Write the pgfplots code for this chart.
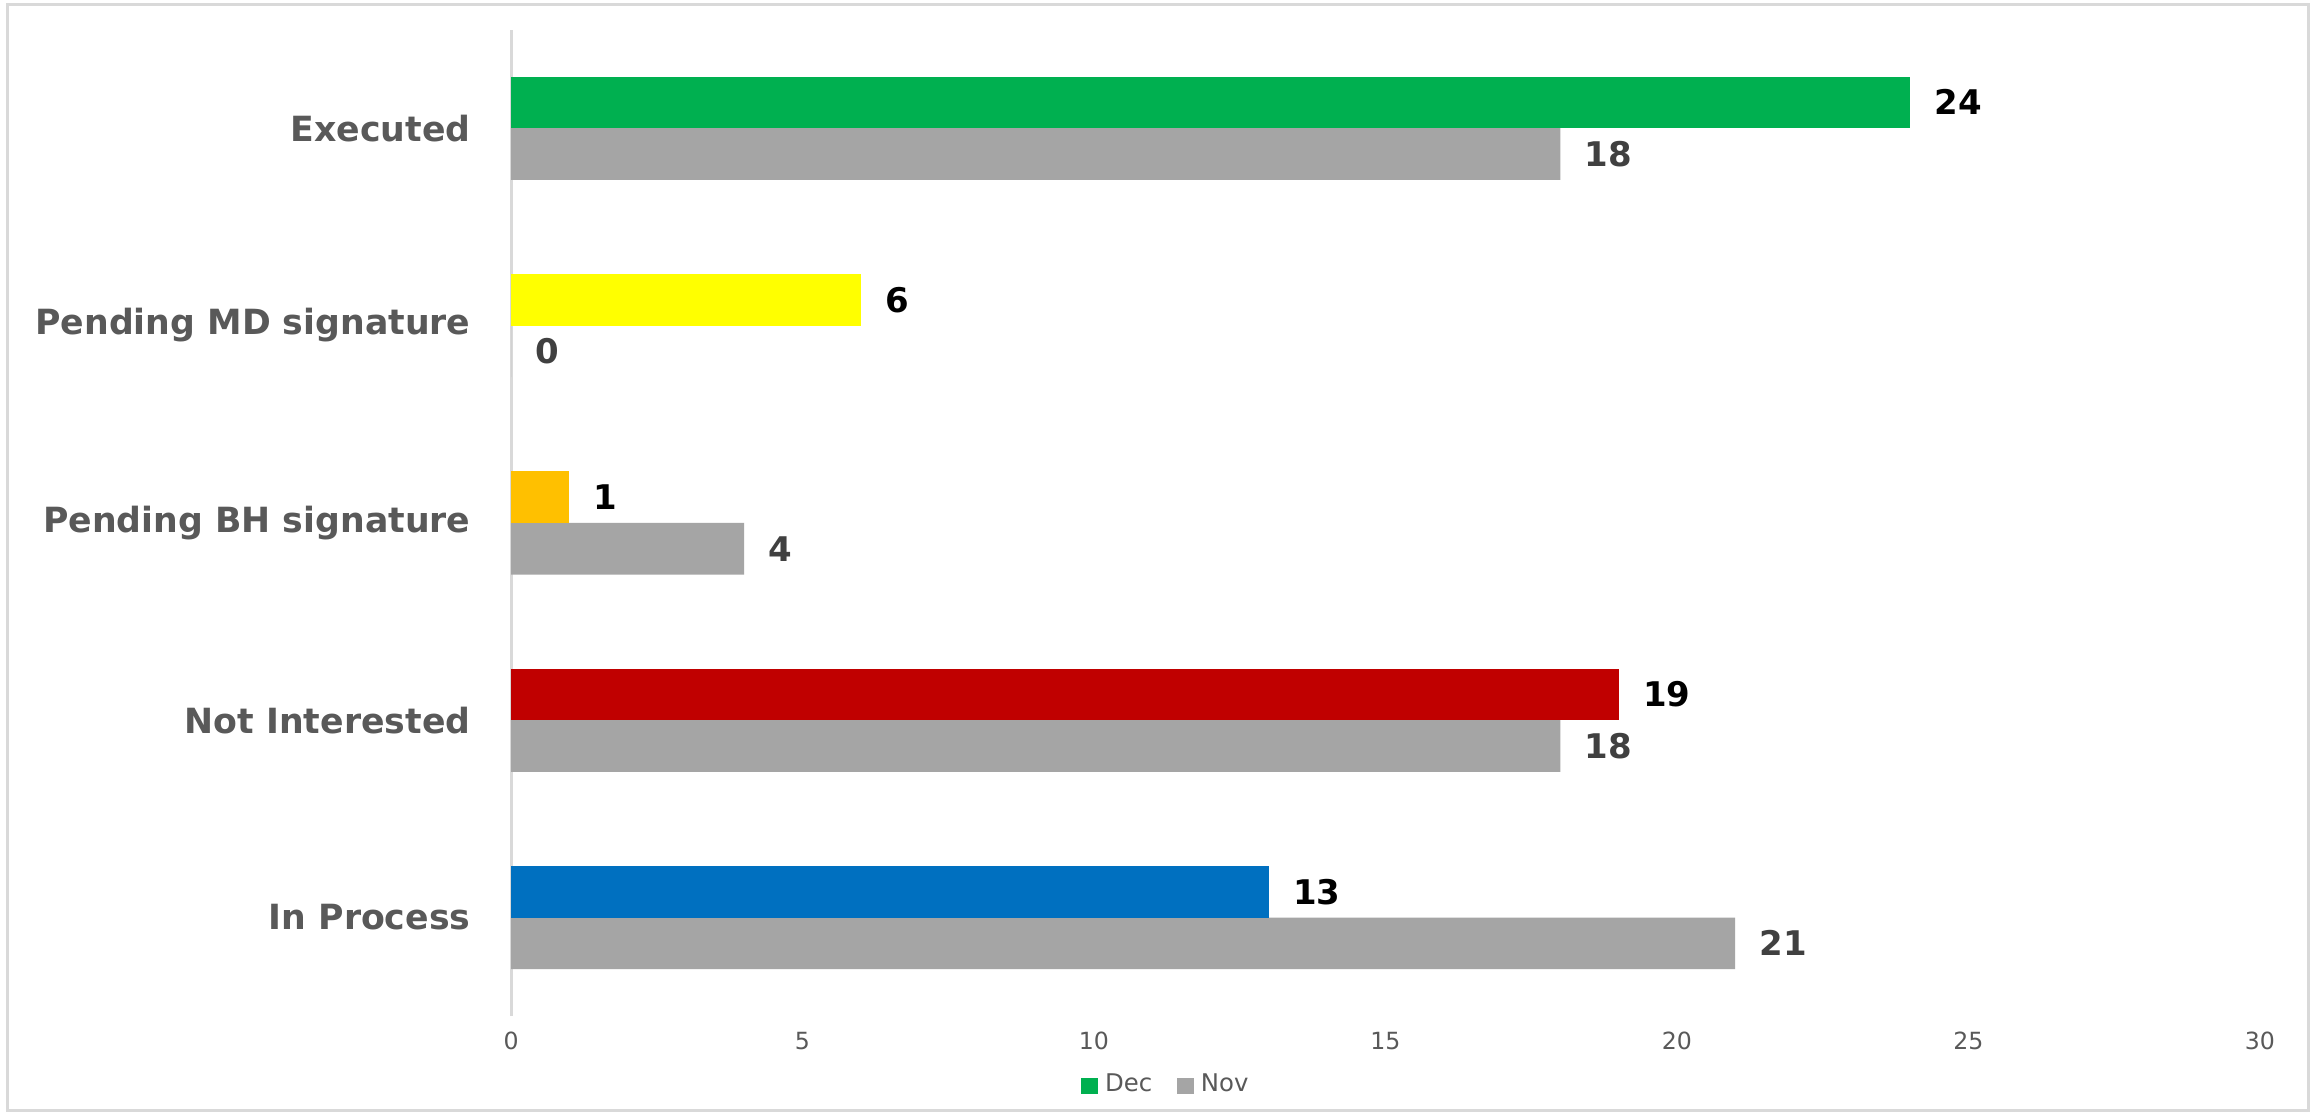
\documentclass[border=0pt]{standalone}
\usepackage{fontspec}
\setmainfont{DejaVu Sans}
\usepackage{pgfplots}
\pgfplotsset{compat=1.18}
\definecolor{decgreen}{HTML}{00B050}
\definecolor{decyellow}{HTML}{FFFF00}
\definecolor{decgold}{HTML}{FFC000}
\definecolor{decred}{HTML}{C00000}
\definecolor{decblue}{HTML}{0070C0}
\definecolor{novgray}{HTML}{A5A5A5}
\definecolor{textgray}{HTML}{595959}
\definecolor{labeldark}{HTML}{404040}
\definecolor{framegray}{HTML}{D9D9D9}
\begin{document}
\begin{tikzpicture}
\fill[white] (-138.4pt,-27.2pt) rectangle (488.8pt,275.2pt);
\draw[framegray, line width=0.8pt] (-136.4pt,-25.6pt) rectangle (486.8pt,274pt);
\begin{axis}[
    at={(0,0)}, anchor=south west,
    scale only axis, width=473.6pt, height=267.2pt,
    xbar, bar width=14pt,
    xmin=0, xmax=30, ymin=0.5, ymax=5.5,
    enlargelimits=false, clip=false,
    axis lines=left, axis line style={-},
    x axis line style={draw=none},
    y axis line style={draw=framegray, line width=0.8pt},
    major tick length=0pt,
    xtick={0,5,...,30},
    ytick={1,2,3,4,5},
    yticklabels={In Process, Not Interested, Pending BH signature, Pending MD signature, Executed},
    /pgf/number format/assume math mode=true,
    xticklabel style={font=\fontsize{6.4}{7}\selectfont, text=textgray, anchor=center, inner sep=0pt, yshift=-6.6pt},
    yticklabel style={font=\fontsize{9.4}{10}\selectfont\bfseries, text=textgray, anchor=east, inner sep=0pt, xshift=-10.8pt},
    nodes near coords,
    every node near coord/.append style={font=\fontsize{9.2}{10}\selectfont\bfseries, anchor=west, inner sep=0pt, xshift=6.4pt},
    legend image code/.code={\fill[#1,draw=none] (0pt,-2.2pt) rectangle (4.4pt,2.2pt);},
    legend columns=2,
    legend style={draw=none, fill=none, at={(0.376,-0.0704)}, anchor=center,
        font=\fontsize{6.6}{7}\selectfont, text=textgray, inner sep=0pt,
        /tikz/every even column/.append style={column sep=4.8pt}},
]
\addplot[fill=decgreen, draw=none, bar shift=7pt, every node near coord/.append style={text=black}]
    coordinates {(24,5)};
\addplot[fill=novgray, draw=none, bar shift=-7pt, every node near coord/.append style={text=labeldark}]
    coordinates {(21,1) (18,2) (4,3) (0,4) (18,5)};
\addplot[fill=decyellow, draw=none, bar shift=7pt, forget plot, every node near coord/.append style={text=black}]
    coordinates {(6,4)};
\addplot[fill=decgold, draw=none, bar shift=7pt, forget plot, every node near coord/.append style={text=black}]
    coordinates {(1,3)};
\addplot[fill=decred, draw=none, bar shift=7pt, forget plot, every node near coord/.append style={text=black}]
    coordinates {(19,2)};
\addplot[fill=decblue, draw=none, bar shift=7pt, forget plot, every node near coord/.append style={text=black}]
    coordinates {(13,1)};
\legend{Dec,Nov}
\end{axis}
\end{tikzpicture}
\end{document}
